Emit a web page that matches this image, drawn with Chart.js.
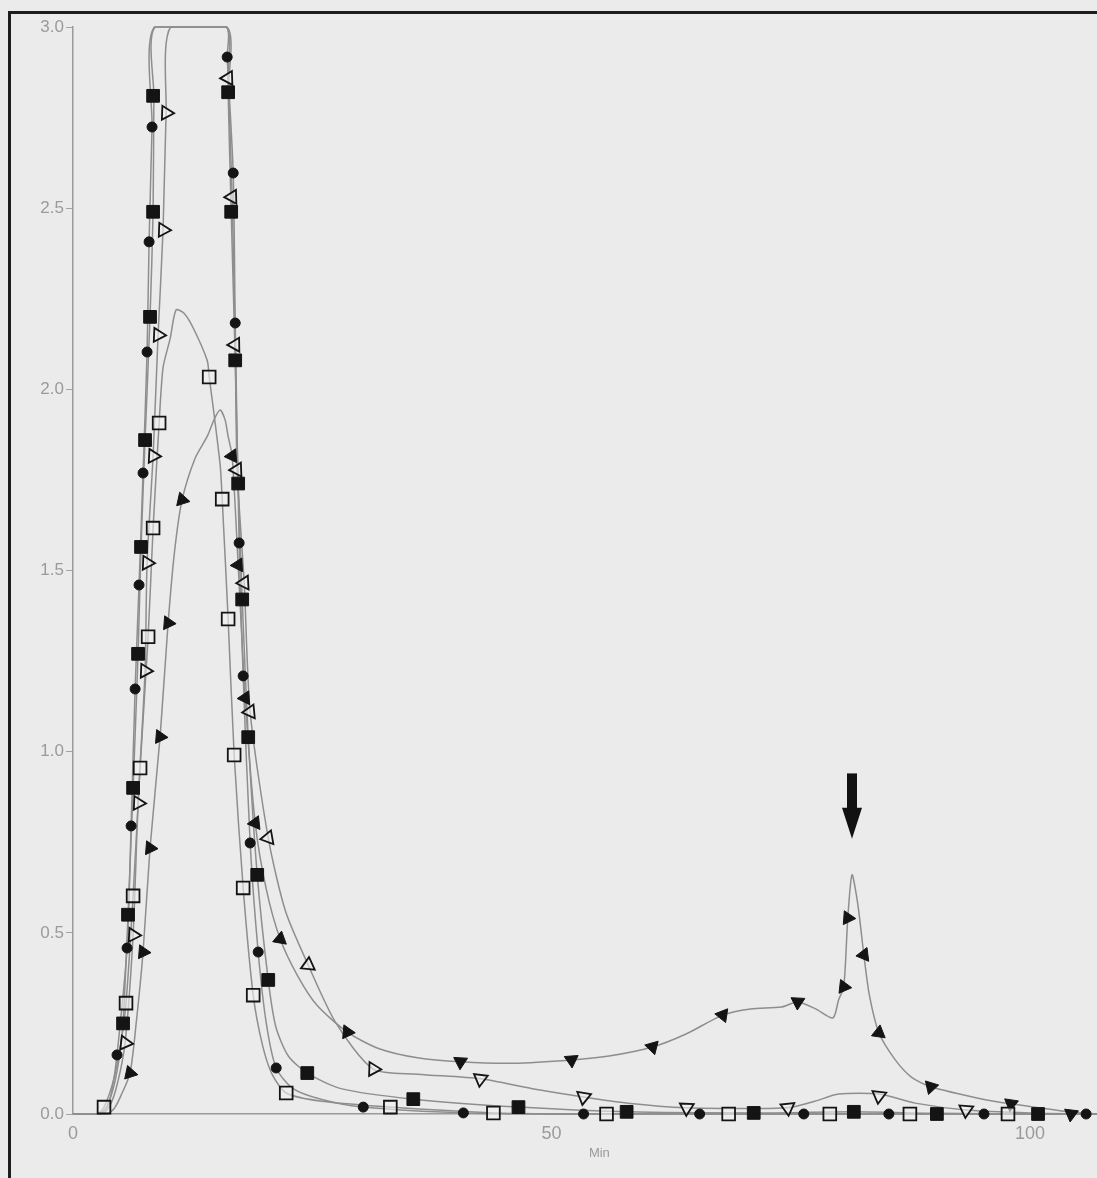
<!DOCTYPE html>
<html>
<head>
<meta charset="utf-8">
<script src="https://cdn.jsdelivr.net/npm/chart.js@4.4.1/dist/chart.umd.min.js"></script>
<style>
  html, body { margin: 0; padding: 0; background: #ebebeb; }
  .wrap { position: relative; width: 1097px; height: 1178px; overflow: hidden; }
  .frame { position: absolute; left: 8px; top: 11px; width: 1300px; height: 1400px;
           border-left: 3px solid #1e1e1e; border-top: 3px solid #1e1e1e; }
  canvas { position: absolute; left: 0; top: 0; }
</style>
</head>
<body>
<div class="wrap">
  <div class="frame"></div>
  <canvas id="grafico" width="1097" height="1178"></canvas>
</div>
<script>
// Cromatograma: 5 series (línea continua + marcadores), eje x en minutos

// ticks de los ejes
const xTicks = [0, 50, 100];
const yTicks = [0, 0.5, 1.0, 1.5, 2.0, 2.5, 3.0];
const xTitle = 'Min';
const xTitleAt = 55; // posición del rótulo "Min" en minutos

// serie 1: cuadrados rellenos
const sqLineT = [0, 2.6, 3.4, 4.2, 4.8, 5.23, 5.75, 6.28, 6.80, 7.11, 7.53, 8.05, 8.37, 8.45, 8.6, 16.1, 16.21, 16.53, 16.95, 17.26, 17.68, 18.31, 19.25, 20.40, 21.2, 22.5, 24.48, 28.0, 35.56, 46.55, 57.85, 71.13, 81.59, 90.27, 100.84, 107];
const sqLineV = [0, 0, 0.015, 0.07, 0.15, 0.25, 0.55, 0.90, 1.27, 1.565, 1.86, 2.20, 2.49, 2.81, 3.0, 3.0, 2.82, 2.49, 2.08, 1.74, 1.42, 1.04, 0.66, 0.37, 0.24, 0.16, 0.113, 0.07, 0.041, 0.019, 0.006, 0.003, 0.006, 0.002, 0, 0];
const sqMarkT = [5.23, 5.75, 6.28, 6.80, 7.11, 7.53, 8.05, 8.37, 8.37, 16.21, 16.53, 16.95, 17.26, 17.68, 18.31, 19.25, 20.40, 24.48, 35.56, 46.55, 57.85, 71.13, 81.59, 90.27, 100.84];
const sqMarkV = [0.25, 0.55, 0.90, 1.27, 1.565, 1.86, 2.20, 2.49, 2.81, 2.82, 2.49, 2.08, 1.74, 1.42, 1.04, 0.66, 0.37, 0.113, 0.041, 0.019, 0.006, 0.003, 0.006, 0, 0];

// serie 2: puntos rellenos
const dotLineT = [0, 2.8, 3.6, 4.1, 4.60, 5.65, 6.07, 6.49, 6.90, 7.32, 7.74, 7.95, 8.26, 8.5, 16.0, 16.11, 16.74, 16.95, 17.36, 17.78, 18.51, 19.35, 20.2, 21.23, 23.0, 26.0, 30.33, 40.79, 53.35, 107];
const dotLineV = [0, 0, 0.02, 0.07, 0.163, 0.458, 0.795, 1.173, 1.46, 1.769, 2.103, 2.407, 2.724, 3.0, 3.0, 2.917, 2.597, 2.183, 1.576, 1.209, 0.748, 0.447, 0.25, 0.127, 0.07, 0.04, 0.019, 0.003, 0, 0];
const dotMarkT = [4.60, 5.65, 6.07, 6.49, 6.90, 7.32, 7.74, 7.95, 8.26, 16.11, 16.74, 16.95, 17.36, 17.78, 18.51, 19.35, 21.23, 30.33, 40.79, 53.35, 65.48, 76.36, 85.25, 95.19, 105.86];
const dotMarkV = [0.163, 0.458, 0.795, 1.173, 1.46, 1.769, 2.103, 2.407, 2.724, 2.917, 2.597, 2.183, 1.576, 1.209, 0.748, 0.447, 0.127, 0.019, 0.003, 0, 0, 0, 0, 0, 0];

// serie 3: triángulos abiertos
const otLineT = [0, 3.0, 3.8, 4.6, 5.44, 6.28, 6.80, 7.53, 7.74, 8.37, 8.89, 9.41, 9.73, 10.2, 16.0, 16.21, 16.63, 16.95, 17.15, 17.89, 18.51, 20.40, 22.2, 24.58, 27.5, 31.38, 36.0, 42.57, 48.0, 53.35, 58.0, 64.12, 70.0, 74.69, 77.5, 80.0, 84.21, 88.0, 93.31, 100, 107];
const otLineV = [0, 0, 0.02, 0.08, 0.196, 0.494, 0.858, 1.223, 1.521, 1.816, 2.150, 2.440, 2.763, 3.0, 3.0, 2.859, 2.531, 2.123, 1.778, 1.466, 1.110, 0.762, 0.56, 0.411, 0.25, 0.124, 0.11, 0.097, 0.07, 0.047, 0.03, 0.017, 0.015, 0.017, 0.035, 0.055, 0.055, 0.03, 0.011, 0.003, 0];
const otMarkT = [5.44, 6.28, 6.80, 7.53, 7.74, 8.37, 8.89, 9.41, 9.73, 16.21, 16.63, 16.95, 17.15, 17.89, 18.51, 20.40, 24.58, 31.38, 42.57, 53.35, 64.12, 74.69, 84.21, 93.31];
const otMarkV = [0.196, 0.494, 0.858, 1.223, 1.521, 1.816, 2.150, 2.440, 2.763, 2.859, 2.531, 2.123, 1.778, 1.466, 1.110, 0.762, 0.411, 0.124, 0.097, 0.047, 0.017, 0.017, 0.050, 0.011];

// serie 4: cuadrados abiertos
const osLineT = [0, 2.5, 3.24, 4.2, 4.9, 5.54, 6.28, 7.01, 7.85, 8.37, 9.00, 9.41, 10.15, 10.77, 11.6, 12.55, 14.02, 14.23, 14.65, 15.38, 15.59, 16.21, 16.84, 17.78, 18.83, 19.8, 20.8, 22.28, 26.0, 33.16, 43.93, 55.75, 107];
const osLineV = [0, 0, 0.019, 0.09, 0.18, 0.306, 0.602, 0.955, 1.317, 1.617, 1.907, 2.06, 2.14, 2.219, 2.21, 2.17, 2.08, 2.034, 1.95, 1.79, 1.697, 1.366, 0.991, 0.624, 0.328, 0.19, 0.11, 0.058, 0.035, 0.019, 0.003, 0, 0];
const osMarkT = [3.24, 5.54, 6.28, 7.01, 7.85, 8.37, 9.00, 14.23, 15.59, 16.21, 16.84, 17.78, 18.83, 22.28, 33.16, 43.93, 55.75, 68.51, 79.08, 87.45, 97.70];
const osMarkV = [0.019, 0.306, 0.602, 0.955, 1.317, 1.617, 1.907, 2.034, 1.697, 1.366, 0.991, 0.624, 0.328, 0.058, 0.019, 0.003, 0, 0, 0, 0, 0];

// serie 5: triángulos rellenos (con el pico marcado por la flecha)
const ftLineT = [0, 3.5, 4.3, 5.0, 5.96, 6.6, 7.32, 8.05, 9.10, 9.94, 10.6, 11.40, 12.76, 14.02, 14.8, 15.38, 15.9, 16.21, 16.63, 17.26, 17.99, 19.04, 20.2, 21.65, 23.5, 25.5, 28.66, 32.0, 36.0, 40.48, 46.0, 52.09, 56.0, 60.56, 64.0, 67.89, 70.8, 74.0, 75.73, 77.6, 79.4, 80.0, 80.54, 80.96, 81.4, 82.0, 82.64, 83.2, 84.21, 85.9, 87.6, 89.64, 95.2, 98.01, 104.29, 107];
const ftLineV = [0, 0, 0.015, 0.05, 0.113, 0.25, 0.447, 0.734, 1.041, 1.355, 1.55, 1.695, 1.81, 1.87, 1.92, 1.943, 1.915, 1.87, 1.816, 1.515, 1.148, 0.803, 0.62, 0.483, 0.38, 0.30, 0.226, 0.18, 0.155, 0.144, 0.14, 0.149, 0.16, 0.185, 0.22, 0.273, 0.29, 0.295, 0.309, 0.29, 0.265, 0.315, 0.351, 0.541, 0.66, 0.58, 0.439, 0.33, 0.224, 0.15, 0.102, 0.075, 0.04, 0.028, 0.005, 0];
const ftMarkT = [5.96, 7.32, 8.05, 9.10, 9.94, 11.40, 16.63, 17.26, 17.99, 19.04, 21.65, 28.66, 40.48, 52.09, 60.56, 67.89, 75.73, 80.54, 80.96, 82.64, 84.21, 89.64, 98.01, 104.29];
const ftMarkV = [0.113, 0.447, 0.734, 1.041, 1.355, 1.695, 1.816, 1.515, 1.148, 0.803, 0.483, 0.226, 0.144, 0.149, 0.185, 0.273, 0.309, 0.351, 0.541, 0.439, 0.224, 0.075, 0.028, 0];

// flecha: [x, punta, cola] en unidades de datos
const arrowAt = [81.4, 0.76, 0.94];

const zip = (xs, ys) => xs.map((x, i) => ({ x, y: ys[i] }));

// los triángulos se giran según la pendiente local de su curva
function alongCurve(ctx) {
  const curve = ctx.dataset.curve;
  const p = ctx.dataset.data[ctx.dataIndex];
  const { x: sx, y: sy } = ctx.chart.scales;
  const px = sx.getPixelForValue(p.x), py = sy.getPixelForValue(p.y);
  let j = 0, best = Infinity;
  curve.forEach((q, k) => {
    const d = Math.hypot(sx.getPixelForValue(q.x) - px, sy.getPixelForValue(q.y) - py);
    if (d < best) { best = d; j = k; }
  });
  const a = curve[Math.max(j - 1, 0)];
  const b = curve[Math.min(j + 1, curve.length - 1)];
  const dx = sx.getPixelForValue(b.x) - sx.getPixelForValue(a.x);
  const dy = sy.getPixelForValue(b.y) - sy.getPixelForValue(a.y);
  return Math.atan2(-dy, -dx) * 180 / Math.PI;
}

const series = [
  { lt: sqLineT, lv: sqLineV, mt: sqMarkT, mv: sqMarkV, style: 'rect', r: 9, fill: true },
  { lt: dotLineT, lv: dotLineV, mt: dotMarkT, mv: dotMarkV, style: 'circle', r: 5, fill: true },
  { lt: otLineT, lv: otLineV, mt: otMarkT, mv: otMarkV, style: 'triangle', r: 8, fill: false },
  { lt: osLineT, lv: osLineV, mt: osMarkT, mv: osMarkV, style: 'rect', r: 9, fill: false },
  { lt: ftLineT, lv: ftLineV, mt: ftMarkT, mv: ftMarkV, style: 'triangle', r: 8, fill: true }
];

const datasets = [];
series.forEach(s => {
  const curve = zip(s.lt, s.lv);
  datasets.push({
    data: curve,
    borderColor: '#8e8e8e',
    borderWidth: 1.5,
    pointRadius: 0,
    tension: 0.25,
    clip: 6,
    order: 2
  });
  datasets.push({
    data: zip(s.mt, s.mv),
    curve,
    showLine: false,
    pointStyle: s.style,
    pointRadius: s.r,
    pointRotation: s.style === 'triangle' ? alongCurve : 0,
    pointBackgroundColor: s.fill ? '#141414' : 'rgba(240,240,240,0.6)',
    pointBorderColor: '#141414',
    pointBorderWidth: s.fill ? 1 : 1.8,
    clip: 12,
    order: 1
  });
});

// flecha del pico y rótulo del eje x
const extras = {
  id: 'extras',
  afterDatasetsDraw(chart) {
    const { ctx, scales: { x, y } } = chart;
    const px = x.getPixelForValue(arrowAt[0]);
    const tip = y.getPixelForValue(arrowAt[1]);
    const tail = y.getPixelForValue(arrowAt[2]);
    ctx.save();
    ctx.fillStyle = '#111';
    ctx.fillRect(px - 5, tail, 10, tip - tail - 30);
    ctx.beginPath();
    ctx.moveTo(px - 10, tip - 31);
    ctx.lineTo(px + 10, tip - 31);
    ctx.lineTo(px, tip);
    ctx.closePath();
    ctx.fill();

    ctx.fillStyle = '#9a9a9a';
    ctx.font = '13px "Liberation Sans"';
    ctx.textAlign = 'center';
    ctx.textBaseline = 'middle';
    ctx.fillText(xTitle, x.getPixelForValue(xTitleAt), 1153);
    ctx.restore();
  }
};

new Chart(document.getElementById('grafico'), {
  type: 'line',
  data: { datasets },
  plugins: [extras],
  options: {
    responsive: false,
    animation: false,
    devicePixelRatio: 1,
    layout: { autoPadding: false, padding: { top: 27, left: 0, right: 0, bottom: 0 } },
    plugins: { legend: { display: false }, tooltip: { enabled: false } },
    scales: {
      x: {
        type: 'linear',
        min: 0,
        max: 107,
        grid: { display: false, drawTicks: false },
        border: { display: true, color: '#9a9a9a', width: 1.5 },
        ticks: { color: '#9a9a9a', font: { family: 'Liberation Sans', size: 18 }, padding: 9, maxRotation: 0 },
        afterBuildTicks: s => { s.ticks = xTicks.map(v => ({ value: v })); },
        afterFit: s => { s.height = 64; s.paddingRight = 0; s.paddingLeft = 0; }
      },
      y: {
        min: 0,
        max: 3,
        grid: { drawOnChartArea: false, drawTicks: true, tickLength: 7, color: '#a3a3a3' },
        border: { display: true, color: '#9a9a9a', width: 1.5 },
        ticks: { color: '#9a9a9a', font: { family: 'Liberation Sans', size: 17 }, padding: 2, callback: v => v.toFixed(1) },
        afterBuildTicks: s => { s.ticks = yTicks.map(v => ({ value: v })); },
        afterFit: s => { s.width = 73; }
      }
    }
  }
});
</script>
</body>
</html>
